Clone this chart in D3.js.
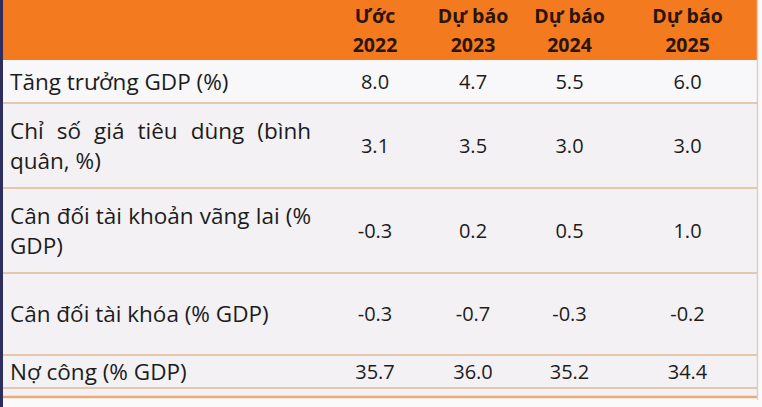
<!DOCTYPE html>
<html lang="vi">
<head>
<meta charset="UTF-8" />
<script src="https://d3js.org/d3.v7.min.js"></script>
<style>
  body { margin: 0; background: #ffffff; }
  svg { display: block; }
</style>
</head>
<body>
<svg width="762" height="407"></svg>
<script>
// column headers
const headTop = ["Ước", "Dự báo", "Dự báo", "Dự báo"];
const headYears = ["2022", "2023", "2024", "2025"];

// row labels (wrapped lines as in the picture)
const rowLabels = [
  ["Tăng trưởng GDP (%)"],
  ["Chỉ số giá tiêu dùng (bình", "quân, %)"],
  ["Cân đối tài khoản vãng lai (%", "GDP)"],
  ["Cân đối tài khóa (% GDP)"],
  ["Nợ công (% GDP)"]
];

// values per row
const gdpGrowth = ["8.0", "4.7", "5.5", "6.0"];
const cpi = ["3.1", "3.5", "3.0", "3.0"];
const currentAcc = ["-0.3", "0.2", "0.5", "1.0"];
const fiscal = ["-0.3", "-0.7", "-0.3", "-0.2"];
const publicDebt = ["35.7", "36.0", "35.2", "34.4"];
const rowValues = [gdpGrowth, cpi, currentAcc, fiscal, publicDebt];

// layout
const svg = d3.select("svg");
const font = "'Open Sans', sans-serif";
const colEdges = [325, 425, 521, 618, 757];
const rowEdges = [60, 103, 188, 273, 355, 388];
const justifyRow = [false, true, true, false, false];
const labelSize = 22.5, valSize = 20;

const colX = i => (colEdges[i] + colEdges[i + 1]) / 2;

// background
svg.append("rect").attr("x", 0).attr("y", 0).attr("width", 762).attr("height", 407).attr("fill", "#fbfafb");
svg.append("rect").attr("x", 0).attr("y", 0).attr("width", 757).attr("height", 396).attr("fill", "#f3f1f4");

// header
svg.append("rect").attr("x", 0).attr("y", 0).attr("width", 757).attr("height", rowEdges[0]).attr("fill", "#f47a20");

const head = svg.append("g");
head.selectAll("text.top").data(headTop).join("text")
  .attr("class", "top")
  .attr("x", (d, i) => colX(i)).attr("y", 23)
  .attr("text-anchor", "middle")
  .attr("font-family", font).attr("font-weight", 700).attr("font-size", 19.5)
  .attr("fill", "#2b1408")
  .text(d => d);
head.selectAll("text.yr").data(headYears).join("text")
  .attr("class", "yr")
  .attr("x", (d, i) => colX(i)).attr("y", 52)
  .attr("text-anchor", "middle")
  .attr("font-family", font).attr("font-weight", 700).attr("font-size", 19.5)
  .attr("fill", "#2b1408")
  .text(d => d);

// first row slightly lighter
svg.append("rect").attr("x", 0).attr("y", rowEdges[0]).attr("width", 757).attr("height", rowEdges[1] - rowEdges[0]).attr("fill", "#f8f7f9");

// row separators
svg.selectAll("line.sep").data(rowEdges.slice(1)).join("line")
  .attr("class", "sep")
  .attr("x1", 0).attr("x2", 757)
  .attr("y1", d => d).attr("y2", d => d)
  .attr("stroke", "#e5c7ae").attr("stroke-width", 2);

// bottom orange rule
svg.append("line").attr("x1", 0).attr("x2", 757).attr("y1", 397).attr("y2", 397)
  .attr("stroke", "#ecaa78").attr("stroke-width", 2.5);

// right border
svg.append("line").attr("x1", 757.5).attr("x2", 757.5).attr("y1", 0).attr("y2", 400)
  .attr("stroke", "#d9cfc9").attr("stroke-width", 1.5);

// left dark strip
svg.append("rect").attr("x", 0).attr("y", 0).attr("width", 3).attr("height", 407).attr("fill", "#2d2d5e");

// rows
const rows = svg.selectAll("g.row").data(rowValues).join("g").attr("class", "row");

rows.each(function (vals, r) {
  const g = d3.select(this);
  const mid = (rowEdges[r] + rowEdges[r + 1]) / 2;
  const lines = rowLabels[r];
  const lh = 30;
  lines.forEach((ln, k) => {
    const y = mid + (k - (lines.length - 1) / 2) * lh + 8;
    if (justifyRow[r] && k < lines.length - 1) {
      const words = ln.split(" ");
      const tmp = words.map(w => g.append("text")
        .attr("font-family", font).attr("font-size", labelSize).attr("fill", "#1c1c1c")
        .attr("y", y).text(w));
      const widths = tmp.map(t => t.node().getComputedTextLength());
      const total = d3.sum(widths);
      const gap = (311 - 10 - total) / (words.length - 1);
      let x = 10;
      tmp.forEach((t, i) => { t.attr("x", x); x += widths[i] + gap; });
    } else {
      g.append("text")
        .attr("x", 10).attr("y", y)
        .attr("font-family", font).attr("font-size", labelSize).attr("fill", "#1c1c1c")
        .text(ln);
    }
  });
  g.selectAll("text.val").data(vals).join("text")
    .attr("class", "val")
    .attr("x", (d, i) => colX(i)).attr("y", mid + 7)
    .attr("text-anchor", "middle")
    .attr("font-family", font).attr("font-size", valSize).attr("fill", "#1c1c1c")
    .text(d => d);
});
</script>
</body>
</html>
